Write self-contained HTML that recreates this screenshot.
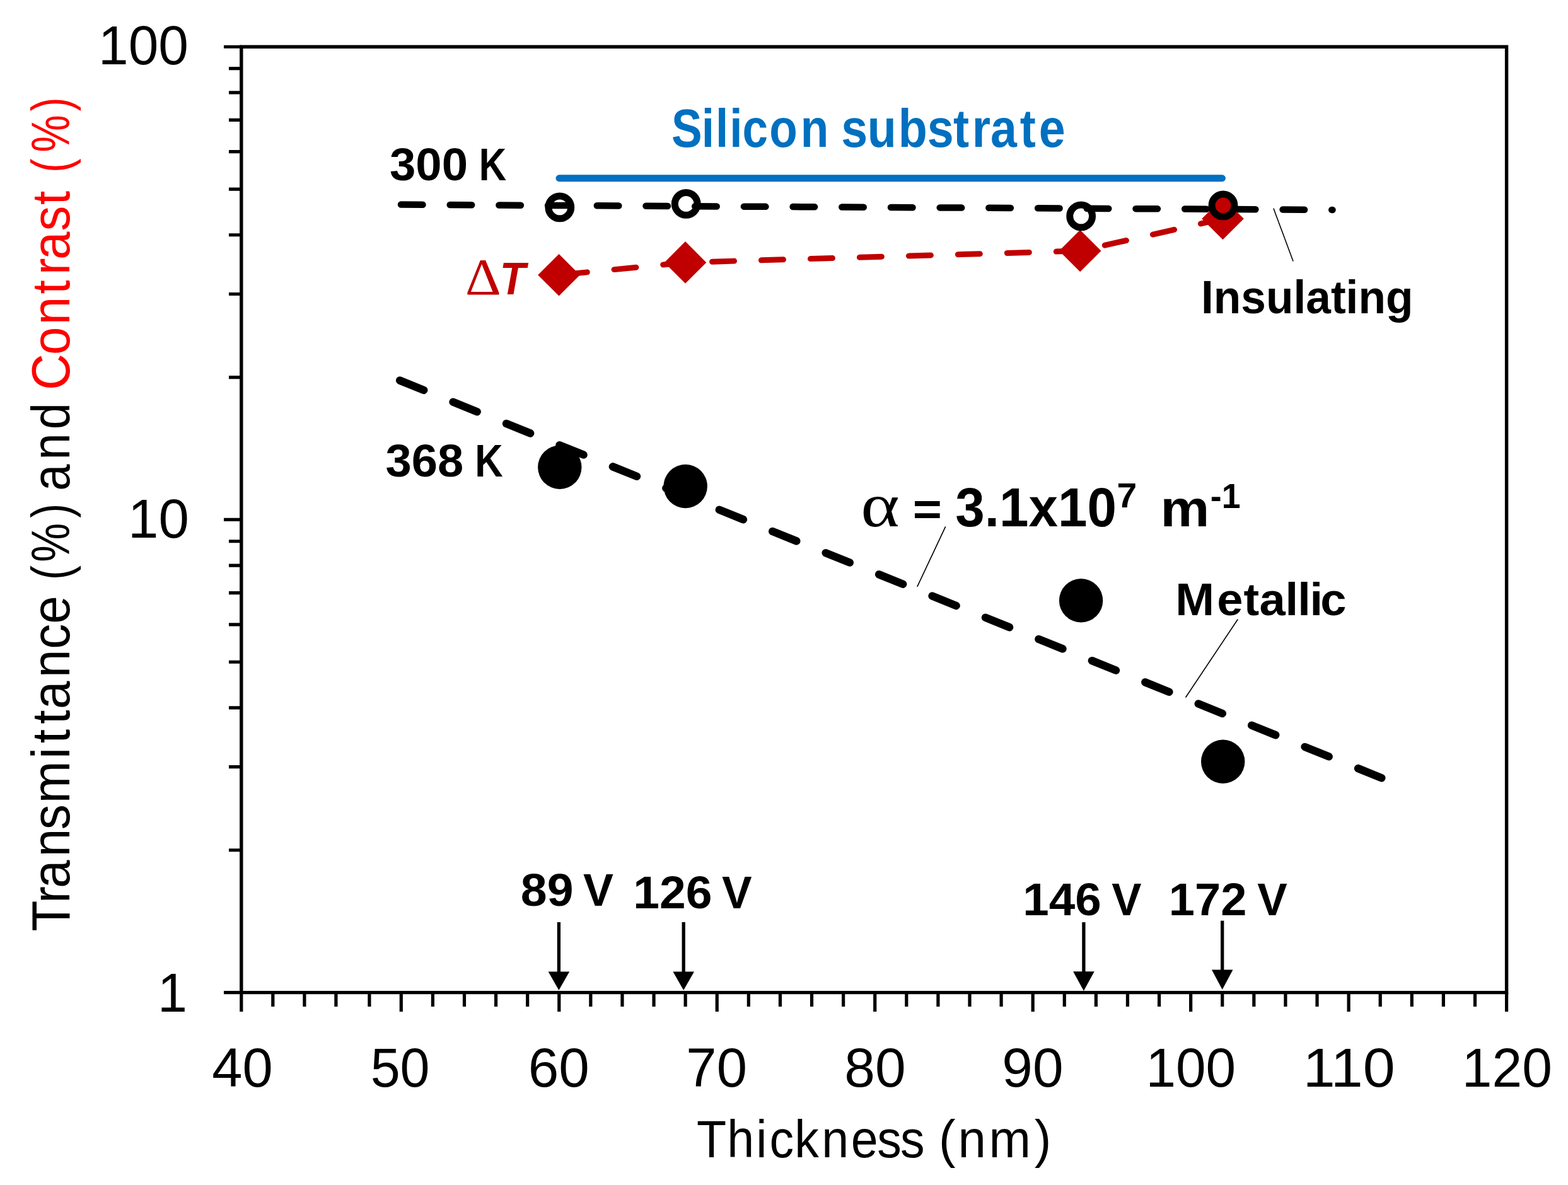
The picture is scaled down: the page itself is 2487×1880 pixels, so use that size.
<!DOCTYPE html>
<html><head><meta charset="utf-8"><title>Transmittance vs Thickness</title>
<style>html,body{margin:0;padding:0;background:#fff;}svg{display:block;}</style></head>
<body>
<svg width="2487" height="1880" viewBox="0 0 2487 1880"><rect x="0" y="0" width="2487" height="1880" fill="#fff"/>
<path d="M382.8,74.25 H2389.6 V1574.6 H382.8 Z" fill="none" stroke="#000" stroke-width="5.4" stroke-linejoin="miter"/>
<path d="M355,1574.60H382.8M355,824.42H382.8M355,74.25H382.8M363,1348.77H382.8M363,1216.68H382.8M363,1122.95H382.8M363,1050.25H382.8M363,990.85H382.8M363,940.63H382.8M363,897.12H382.8M363,858.75H382.8M363,598.60H382.8M363,466.50H382.8M363,372.77H382.8M363,300.08H382.8M363,240.68H382.8M363,190.45H382.8M363,146.95H382.8M363,108.58H382.8M382.80,1574.6V1605M432.80,1574.6V1597M482.90,1574.6V1597M532.90,1574.6V1597M585.90,1574.6V1597M636.30,1574.6V1605M686.39,1574.6V1597M736.49,1574.6V1597M786.58,1574.6V1597M836.68,1574.6V1597M886.77,1574.6V1605M936.86,1574.6V1597M986.96,1574.6V1597M1037.05,1574.6V1597M1087.15,1574.6V1597M1137.24,1574.6V1605M1187.33,1574.6V1597M1237.43,1574.6V1597M1287.52,1574.6V1597M1337.62,1574.6V1597M1387.71,1574.6V1605M1437.80,1574.6V1597M1487.90,1574.6V1597M1537.99,1574.6V1597M1588.09,1574.6V1597M1638.18,1574.6V1605M1688.27,1574.6V1597M1738.37,1574.6V1597M1788.46,1574.6V1597M1838.56,1574.6V1597M1888.65,1574.6V1605M1938.74,1574.6V1597M1988.84,1574.6V1597M2038.93,1574.6V1597M2089.03,1574.6V1597M2139.12,1574.6V1605M2189.21,1574.6V1597M2239.31,1574.6V1597M2289.40,1574.6V1597M2339.50,1574.6V1597M2389.59,1574.6V1605" stroke="#000" stroke-width="5.2" fill="none"/>
<line x1="636" y1="324.6" x2="2113.5" y2="332.9" stroke="#000" stroke-width="10.5" stroke-linecap="round" stroke-dasharray="34.5 43.2"/>
<line x1="634.2" y1="603.6" x2="2191.3" y2="1234.2" stroke="#000" stroke-width="12.5" stroke-linecap="round" stroke-dasharray="41 50.1"/>
<polyline points="886.5,436.3 1087,416.4 1713.2,398 1939.5,347" fill="none" stroke="#C00000" stroke-width="9" stroke-linecap="round" stroke-dasharray="35 43" stroke-dashoffset="-10"/>
<path d="M886.5,403.0 L919.8,436.3 L886.5,469.6 L853.2,436.3 Z" fill="#C00000"/>
<path d="M1087,383.09999999999997 L1120.3,416.4 L1087,449.7 L1053.7,416.4 Z" fill="#C00000"/>
<path d="M1713.2,364.7 L1746.5,398 L1713.2,431.3 L1679.9,398 Z" fill="#C00000"/>
<path d="M1939.5,313.7 L1972.8,347 L1939.5,380.3 L1906.2,347 Z" fill="#C00000"/>
<circle cx="1940" cy="325.9" r="13" fill="#C00000"/>
<circle cx="887.8" cy="328.9" r="17.9" fill="none" stroke="#000" stroke-width="11"/>
<circle cx="1088.2" cy="323.4" r="17.9" fill="none" stroke="#000" stroke-width="11"/>
<circle cx="1714.65" cy="342.9" r="17.9" fill="none" stroke="#000" stroke-width="11"/>
<circle cx="1940" cy="325.9" r="17.9" fill="none" stroke="#000" stroke-width="11"/>
<circle cx="887.8" cy="741.2" r="34.7" fill="#000"/>
<circle cx="1087.2" cy="771.5" r="34.7" fill="#000"/>
<circle cx="1714.6" cy="952.7" r="34.7" fill="#000"/>
<circle cx="1939.7" cy="1208.2" r="34.7" fill="#000"/>
<line x1="886.9" y1="282.75" x2="1938.5" y2="282.75" stroke="#0070C0" stroke-width="10.9" stroke-linecap="round"/>
<line x1="886.4" y1="1463" x2="886.4" y2="1543.4" stroke="#000" stroke-width="5.3"/>
<path d="M869.6,1541.4 L903.1999999999999,1541.4 L886.4,1571 Z" fill="#000"/>
<line x1="1084.2" y1="1463" x2="1084.2" y2="1543.4" stroke="#000" stroke-width="5.3"/>
<path d="M1067.4,1541.4 L1101.0,1541.4 L1084.2,1571 Z" fill="#000"/>
<line x1="1718.9" y1="1463.1" x2="1718.9" y2="1543.2" stroke="#000" stroke-width="5.3"/>
<path d="M1702.1000000000001,1541.2 L1735.7,1541.2 L1718.9,1572 Z" fill="#000"/>
<line x1="1938.7" y1="1460.7" x2="1938.7" y2="1540.4" stroke="#000" stroke-width="5.3"/>
<path d="M1921.9,1538.4 L1955.5,1538.4 L1938.7,1569.9 Z" fill="#000"/>
<line x1="2019.9" y1="330.5" x2="2051.1" y2="414.5" stroke="#000" stroke-width="1.6"/>
<line x1="1499.7" y1="835.4" x2="1454.8" y2="930.9" stroke="#000" stroke-width="1.6"/>
<line x1="1963.3" y1="982.5" x2="1880.5" y2="1106.5" stroke="#000" stroke-width="1.6"/>
<text transform="translate(162.90,101.70) scale(0.9853,1)" x="-6.96" y="0" font-family="'Liberation Sans', sans-serif" font-weight="normal" font-size="86.96" fill="#000" xml:space="preserve">100</text>
<text transform="translate(210.00,853.00) scale(1.0002,1)" x="-6.96" y="0" font-family="'Liberation Sans', sans-serif" font-weight="normal" font-size="86.96" fill="#000" xml:space="preserve">10</text>
<text transform="translate(256.70,1604.50) scale(0.9596,1)" x="-7.04" y="0" font-family="'Liberation Sans', sans-serif" font-weight="normal" font-size="87.97" fill="#000" xml:space="preserve">1</text>
<text transform="translate(338.00,1724.00) scale(1.0017,1)" x="-1.73" y="0" font-family="'Liberation Sans', sans-serif" font-weight="normal" font-size="86.52" fill="#000" xml:space="preserve">40</text>
<text transform="translate(591.00,1724.00) scale(0.9762,1)" x="-3.46" y="0" font-family="'Liberation Sans', sans-serif" font-weight="normal" font-size="86.52" fill="#000" xml:space="preserve">50</text>
<text transform="translate(842.00,1724.00) scale(1.0085,1)" x="-4.33" y="0" font-family="'Liberation Sans', sans-serif" font-weight="normal" font-size="86.52" fill="#000" xml:space="preserve">60</text>
<text transform="translate(1092.70,1724.00) scale(1.0039,1)" x="-4.33" y="0" font-family="'Liberation Sans', sans-serif" font-weight="normal" font-size="86.52" fill="#000" xml:space="preserve">70</text>
<text transform="translate(1342.70,1724.00) scale(1.0121,1)" x="-3.46" y="0" font-family="'Liberation Sans', sans-serif" font-weight="normal" font-size="86.52" fill="#000" xml:space="preserve">80</text>
<text transform="translate(1593.70,1724.00) scale(1.0107,1)" x="-4.33" y="0" font-family="'Liberation Sans', sans-serif" font-weight="normal" font-size="86.52" fill="#000" xml:space="preserve">90</text>
<text transform="translate(1824.30,1724.00) scale(0.9880,1)" x="-6.92" y="0" font-family="'Liberation Sans', sans-serif" font-weight="normal" font-size="86.52" fill="#000" xml:space="preserve">100</text>
<text transform="translate(2074.00,1724.00) scale(1.0591,1)" x="-6.92" y="0" font-family="'Liberation Sans', sans-serif" font-weight="normal" font-size="86.52" fill="#000" xml:space="preserve">110</text>
<text transform="translate(2325.70,1724.00) scale(0.9910,1)" x="-6.92" y="0" font-family="'Liberation Sans', sans-serif" font-weight="normal" font-size="86.52" fill="#000" xml:space="preserve">120</text>
<text transform="translate(0,1835.90) scale(0.9182,1)" x="1203.40 1255.93 1306.23 1329.26 1372.43 1419.35 1469.98 1515.25 1555.11" y="0" font-family="'Liberation Sans', sans-serif" font-weight="normal" font-size="84.06" fill="#000">Thickness</text>
<text transform="translate(0,1835.90) scale(0.9495,1)" x="1568.26 1600.34 1651.87 1727.95" y="0" font-family="'Liberation Sans', sans-serif" font-weight="normal" font-size="84.06" fill="#000">(nm)</text>
<text transform="translate(0,233.10) scale(0.8588,1)" x="1240.13 1295.85 1321.70 1347.61 1371.22 1420.81 1478.55" y="0" font-family="'Liberation Sans', sans-serif" font-weight="bold" font-size="84.93" fill="#0070C0">Silicon</text>
<text transform="translate(0,233.10) scale(0.8869,1)" x="1504.28 1551.12 1606.31 1658.30 1704.88 1738.37 1771.35 1824.17 1857.92" y="0" font-family="'Liberation Sans', sans-serif" font-weight="bold" font-size="84.93" fill="#0070C0">substrate</text>
<text transform="translate(619.40,285.60) scale(1.0289,1)" x="-1.45" y="0" font-family="'Liberation Sans', sans-serif" font-weight="bold" font-size="72.32" fill="#000" xml:space="preserve">300</text>
<text transform="translate(763.90,285.60) scale(0.8318,1)" x="-5.06" y="0" font-family="'Liberation Sans', sans-serif" font-weight="bold" font-size="72.32" fill="#000" xml:space="preserve">K</text>
<text transform="translate(613.10,755.80) scale(1.0376,1)" x="-1.43" y="0" font-family="'Liberation Sans', sans-serif" font-weight="bold" font-size="71.45" fill="#000" xml:space="preserve">368</text>
<text transform="translate(757.60,755.80) scale(0.8616,1)" x="-5.00" y="0" font-family="'Liberation Sans', sans-serif" font-weight="bold" font-size="71.45" fill="#000" xml:space="preserve">K</text>
<text transform="translate(1910.00,496.80) scale(0.9734,1)" x="-5.12" y="0" font-family="'Liberation Sans', sans-serif" font-weight="bold" font-size="73.19" fill="#000" xml:space="preserve">Insulating</text>
<text transform="translate(0,975.80) scale(1.0322,1)" x="1806.15 1870.03 1911.09 1935.12 1974.94 1993.98 2012.68 2028.94" y="0" font-family="'Liberation Sans', sans-serif" font-weight="bold" font-size="71.88" fill="#000">Metallic</text>
<text transform="translate(828.10,1437.40) scale(1.0503,1)" x="-2.15" y="0" font-family="'Liberation Sans', sans-serif" font-weight="bold" font-size="71.59" fill="#000" xml:space="preserve">89</text>
<text transform="translate(925.70,1437.40) scale(1.0035,1)" x="-0.72" y="0" font-family="'Liberation Sans', sans-serif" font-weight="bold" font-size="71.59" fill="#000" xml:space="preserve">V</text>
<text transform="translate(1008.80,1440.60) scale(1.0417,1)" x="-4.32" y="0" font-family="'Liberation Sans', sans-serif" font-weight="bold" font-size="72.03" fill="#000" xml:space="preserve">126</text>
<text transform="translate(1145.60,1440.60) scale(0.9911,1)" x="-0.72" y="0" font-family="'Liberation Sans', sans-serif" font-weight="bold" font-size="72.03" fill="#000" xml:space="preserve">V</text>
<text transform="translate(1626.70,1452.00) scale(1.0231,1)" x="-4.37" y="0" font-family="'Liberation Sans', sans-serif" font-weight="bold" font-size="72.90" fill="#000" xml:space="preserve">146</text>
<text transform="translate(1764.00,1452.00) scale(0.9708,1)" x="-0.73" y="0" font-family="'Liberation Sans', sans-serif" font-weight="bold" font-size="72.90" fill="#000" xml:space="preserve">V</text>
<text transform="translate(1858.20,1452.00) scale(1.0162,1)" x="-4.37" y="0" font-family="'Liberation Sans', sans-serif" font-weight="bold" font-size="72.90" fill="#000" xml:space="preserve">172</text>
<text transform="translate(1994.90,1452.00) scale(0.9771,1)" x="-0.73" y="0" font-family="'Liberation Sans', sans-serif" font-weight="bold" font-size="72.90" fill="#000" xml:space="preserve">V</text>
<text transform="translate(1370.00,835.40) scale(1.1872,1)" x="-3.95" y="0" font-family="'Liberation Serif', serif" font-weight="normal" font-size="98.70" fill="#000" xml:space="preserve">α</text>
<text transform="translate(1517.00,834.50) scale(0.9531,1)" x="-1.75" y="0" font-family="'Liberation Sans', sans-serif" font-weight="bold" font-size="87.68" fill="#000" xml:space="preserve">3.1x10</text>
<text transform="translate(1451.00,832.04) scale(1.0799,1)" x="-2.93" y="0" font-family="'Liberation Sans', sans-serif" font-weight="bold" font-size="73.16" fill="#000">=</text>
<text transform="translate(1773.80,805.00) scale(1.0354,1)" x="-2.20" y="0" font-family="'Liberation Sans', sans-serif" font-weight="bold" font-size="55.07" fill="#000" xml:space="preserve">7</text>
<text transform="translate(1846.50,834.50) scale(1.0618,1)" x="-5.77" y="0" font-family="'Liberation Sans', sans-serif" font-weight="bold" font-size="82.41" fill="#000" xml:space="preserve">m</text>
<text transform="translate(1922.00,806.00) scale(0.9718,1)" x="-2.21" y="0" font-family="'Liberation Sans', sans-serif" font-weight="bold" font-size="55.22" fill="#000" xml:space="preserve">-1</text>
<text transform="translate(741.60,466.70) scale(1.0570,1)" x="-3.34" y="0" font-family="'Liberation Serif', serif" font-weight="normal" font-size="83.48" fill="#C00000" xml:space="preserve">Δ</text>
<text transform="translate(797.40,466.70) scale(0.9226,1)" x="-5.06" y="0" font-family="'Liberation Sans', sans-serif" font-weight="bold" font-style="italic" font-size="72.32" fill="#C00000" xml:space="preserve">T</text>
<text transform="translate(110,1474.5) rotate(-90) scale(0.9477,1)" x="-3.24 44.14 69.04 121.74 167.07 211.21 285.63 311.48 343.76 368.81 421.62 469.37 511.63" y="0" font-family="'Liberation Sans', sans-serif" font-weight="normal" font-size="84.49" fill="#000">Transmittance</text>
<text transform="translate(110,916.6) rotate(-90) scale(0.8240,1)" x="-4.40 30.06 115.17" y="0" font-family="'Liberation Sans', sans-serif" font-weight="normal" font-size="84.49" fill="#000">(%)</text>
<text transform="translate(110,772.8) rotate(-90) scale(0.8991,1)" x="-6.72 48.13 101.95" y="0" font-family="'Liberation Sans', sans-serif" font-weight="normal" font-size="84.49" fill="#000">and</text>
<text transform="translate(110,611.2) rotate(-90) scale(0.9457,1)" x="-8.26 50.99 101.43 152.91 185.17 210.77 258.71 302.69" y="0" font-family="'Liberation Sans', sans-serif" font-weight="normal" font-size="84.49" fill="#FF0000">Contrast</text>
<text transform="translate(110,270.6) rotate(-90) scale(0.7866,1)" x="-4.10 36.96 119.68" y="0" font-family="'Liberation Sans', sans-serif" font-weight="normal" font-size="84.49" fill="#FF0000">(%)</text></svg>
</body></html>
